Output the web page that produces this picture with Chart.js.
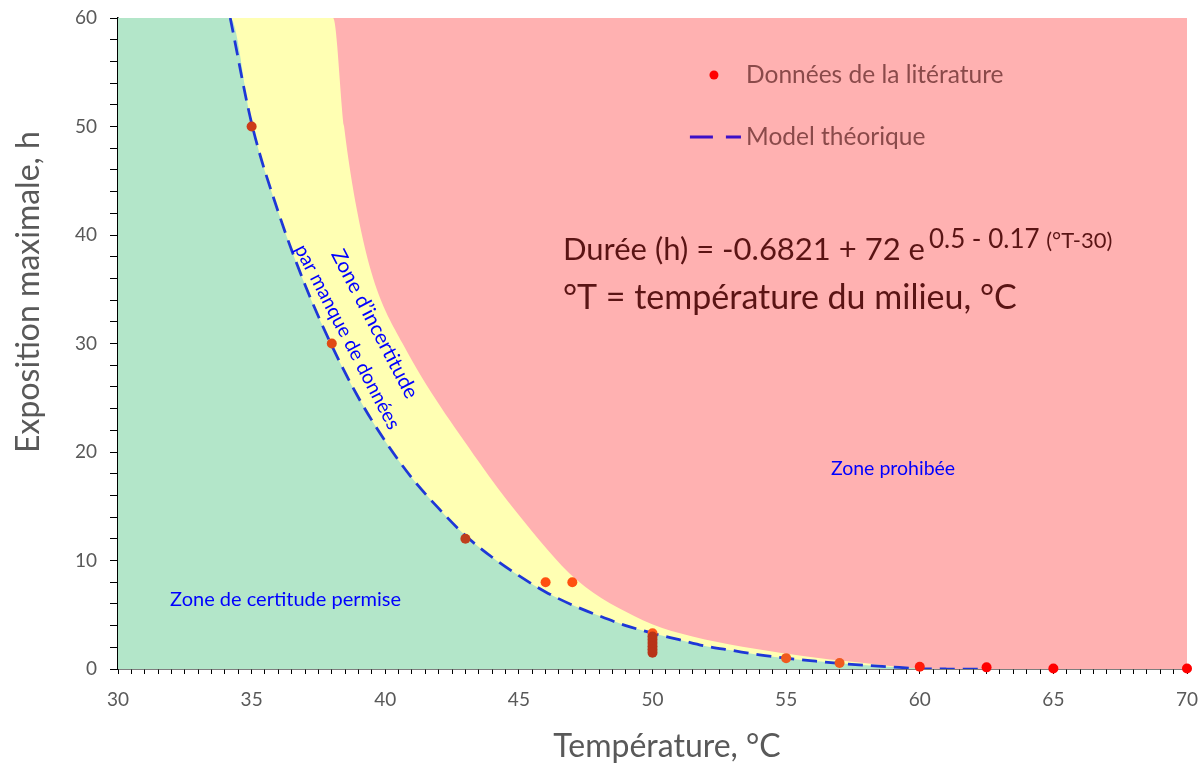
<!DOCTYPE html>
<html lang="fr">
<head>
<meta charset="utf-8">
<title>Exposition maximale selon la température</title>
<script src="https://cdn.jsdelivr.net/npm/chart.js@4.4.1/dist/chart.umd.min.js"></script>
<style>
  html, body { margin: 0; padding: 0; background: #fff; }
  #wrap { width: 1200px; height: 768px; position: relative; }
</style>
</head>
<body>
<div id="wrap"><canvas id="chart" width="1200" height="768"></canvas></div>
<script>
// Model théorique
const modelT = [34.2, 35, 36, 37, 38, 39, 40, 41, 42, 43, 44, 45, 46, 47, 48, 49, 50, 51, 52, 53, 54, 55, 56, 57, 58, 59, 60, 61, 62.5];
const modelH = [60, 50.3, 42.1, 35.4, 29.8, 25.0, 21.0, 17.6, 14.8, 12.3, 10.3, 8.6, 7.1, 5.9, 4.9, 4.0, 3.3, 2.7, 2.1, 1.7, 1.3, 1.0, 0.75, 0.52, 0.34, 0.18, 0.04, 0, 0];

// limite haute de la zone d'incertitude
const upperT = [38.05, 38.46, 38.94, 39.55, 40.65, 43.5, 44.93, 47.17, 49.64, 51.03, 54.77, 58.51, 60.38, 70];
const upperH = [60, 50.0, 42.3, 36.0, 30.0, 19.1, 14.4, 8.2, 4.5, 3.3, 1.5, 0.4, 0, 0];

// Données de la litérature
const litT = [35, 38, 43, 46, 47, 50, 50, 50, 50, 50, 50, 50, 55, 57, 60, 62.5, 65, 70];
const litH = [50, 30, 12, 8, 8, 3.3, 3.0, 2.7, 2.4, 2.1, 1.8, 1.5, 1.0, 0.55, 0.2, 0.15, 0.05, 0.05];

// axis limits
const xMin = 30, xMax = 70, yMin = 0, yMax = 60;

// point colours (style only)
const litColors = ['#cc3c1a', '#e04a14', '#bf3f1c', '#ff5010', '#ff5010', '#ff5a1a',
  '#b83418', '#b83418', '#b83418', '#b83418', '#b83418', '#b83418',
  '#f05a1e', '#f05a1e', '#ff1a0a', '#ff0000', '#ff0000', '#ff0000'];

const toPts = (xs, ys) => xs.map((v, i) => ({ x: v, y: ys[i] }));

const modelPts = toPts(modelT, modelH);
const greenPts = [{ x: xMin, y: yMax }].concat(modelPts);
const yellowPts = [{ x: xMin, y: yMax }].concat(toPts(upperT, upperH));
const pinkPts = [{ x: xMin, y: yMax }, { x: xMax, y: yMax }];

Chart.defaults.font.family = 'Lato, "Open Sans", sans-serif';

// texts drawn on top of the plot
const annotations = {
  id: 'annotations',
  afterDatasetsDraw(chart) {
    const { ctx, scales: { x, y } } = chart;
    const px = v => x.getPixelForValue(v);
    const py = v => y.getPixelForValue(v);
    ctx.save();

    // legend
    ctx.fillStyle = '#ff0000';
    ctx.beginPath();
    ctx.arc(px(52.3), py(54.75), 4.5, 0, Math.PI * 2);
    ctx.fill();
    ctx.strokeStyle = '#3c10c8';
    ctx.lineWidth = 3;
    ctx.setLineDash([23, 13]);
    ctx.beginPath();
    ctx.moveTo(px(51.4), py(49.03));
    ctx.lineTo(px(53.31), py(49.03));
    ctx.stroke();
    ctx.setLineDash([]);
    ctx.fillStyle = '#8a4a4a';
    ctx.font = '24.5px Lato';
    ctx.textBaseline = 'middle';
    ctx.textAlign = 'left';
    ctx.fillText('Données de la litérature', px(53.5), py(54.75));
    ctx.fillText('Model théorique', px(53.5), py(49.03));

    // equation
    ctx.fillStyle = '#5a1414';
    ctx.textBaseline = 'alphabetic';
    ctx.font = '31px Lato';
    const eq = 'Durée (h) = -0.6821 + 72 e';
    const ex = px(46.65), ey = py(37.7);
    ctx.fillText(eq, ex, ey);
    let w = ctx.measureText(eq).width + 4;
    ctx.font = '26px Lato';
    const sup1 = '0.5 - 0.17 ';
    ctx.fillText(sup1, ex + w, ey - 12);
    w += ctx.measureText(sup1).width;
    ctx.font = '22px Lato';
    ctx.fillText('(°T-30)', ex + w, ey - 12);
    ctx.font = '34px Lato';
    ctx.fillText('°T = température du milieu, °C', ex, py(33.2));

    // zones
    ctx.fillStyle = '#0000ff';
    ctx.textBaseline = 'middle';
    ctx.font = '19.5px Lato';
    ctx.textAlign = 'center';
    ctx.fillText('Zone prohibée', px(59.0), py(18.43));
    ctx.textAlign = 'left';
    ctx.font = '20px Lato';
    ctx.fillText('Zone de certitude permise', px(31.95), py(6.36));

    ctx.textAlign = 'center';
    const rot = 62.5 * Math.PI / 180;
    ctx.font = '20.5px Lato';
    ctx.save();
    ctx.translate(px(39.6), py(31.8));
    ctx.rotate(rot);
    ctx.fillText('Zone d’incertitude', 0, 0);
    ctx.restore();
    ctx.font = '19.5px Lato';
    ctx.save();
    ctx.translate(px(38.58), py(30.6));
    ctx.rotate(rot);
    ctx.fillText('par manque de données', 0, 0);
    ctx.restore();

    ctx.restore();
  },
  afterDraw(chart) {
    const { ctx } = chart;
    ctx.save();
    ctx.fillStyle = '#595959';
    ctx.font = '32px Lato';
    ctx.textAlign = 'center';
    ctx.textBaseline = 'middle';
    ctx.fillText('Température, °C', 667, 747);
    ctx.translate(29, 292);
    ctx.rotate(-Math.PI / 2);
    ctx.fillText('Exposition maximale, h', 0, 0);
    ctx.restore();
  }
};

// keep the plot box fixed: no extra room for overhanging tick labels
const noLabelPadding = scale => {
  scale.paddingLeft = 0;
  scale.paddingRight = 0;
  scale.paddingTop = 0;
  scale.paddingBottom = 0;
};

new Chart(document.getElementById('chart'), {
  type: 'line',
  data: {
    datasets: [
      {
        label: 'Données de la litérature',
        data: toPts(litT, litH),
        showLine: false,
        pointRadius: 5,
        pointBorderWidth: 0,
        pointBackgroundColor: litColors,
        clip: false,
        order: 0
      },
      {
        label: 'Model théorique',
        data: modelPts,
        borderColor: 'rgb(30, 55, 215)',
        borderWidth: 2.75,
        borderDash: [15, 8],
        pointRadius: 0,
        fill: false,
        cubicInterpolationMode: 'monotone',
        order: 1
      },
      {
        label: 'Zone de certitude permise',
        data: greenPts,
        borderWidth: 0,
        pointRadius: 0,
        backgroundColor: '#b3e6c9',
        fill: 'origin',
        cubicInterpolationMode: 'monotone',
        order: 2
      },
      {
        label: 'Zone d’incertitude',
        data: yellowPts,
        borderWidth: 0,
        pointRadius: 0,
        backgroundColor: '#ffffb3',
        fill: 'origin',
        cubicInterpolationMode: 'monotone',
        order: 3
      },
      {
        label: 'Zone prohibée',
        data: pinkPts,
        borderWidth: 0,
        pointRadius: 0,
        backgroundColor: '#ffb1b1',
        fill: 'origin',
        order: 4
      }
    ]
  },
  options: {
    responsive: false,
    animation: false,
    events: [],
    layout: { padding: { top: 18, right: 13, left: 0, bottom: 0 } },
    plugins: {
      legend: { display: false },
      tooltip: { enabled: false }
    },
    scales: {
      x: {
        type: 'linear',
        min: xMin,
        max: xMax,
        afterFit: scale => { scale.height = 99; noLabelPadding(scale); },
        ticks: {
          stepSize: 0.5,
          autoSkip: false,
          maxRotation: 0,
          minRotation: 0,
          color: '#595959',
          font: { size: 19 },
          padding: 14,
          callback: v => (v % 5 === 0 ? v : '')
        },
        grid: { drawOnChartArea: false, tickLength: 5, tickColor: '#000', tickWidth: 1 },
        border: { color: '#000', width: 1.5 }
      },
      y: {
        type: 'linear',
        min: yMin,
        max: yMax,
        afterFit: scale => { scale.width = 118; noLabelPadding(scale); },
        ticks: {
          stepSize: 2,
          autoSkip: false,
          color: '#595959',
          font: { size: 19 },
          padding: 13,
          callback: v => (v % 10 === 0 ? v : '')
        },
        grid: { drawOnChartArea: false, tickLength: 8, tickColor: '#000', tickWidth: 1 },
        border: { color: '#000', width: 1.5 }
      }
    }
  },
  plugins: [annotations]
});
</script>
</body>
</html>
